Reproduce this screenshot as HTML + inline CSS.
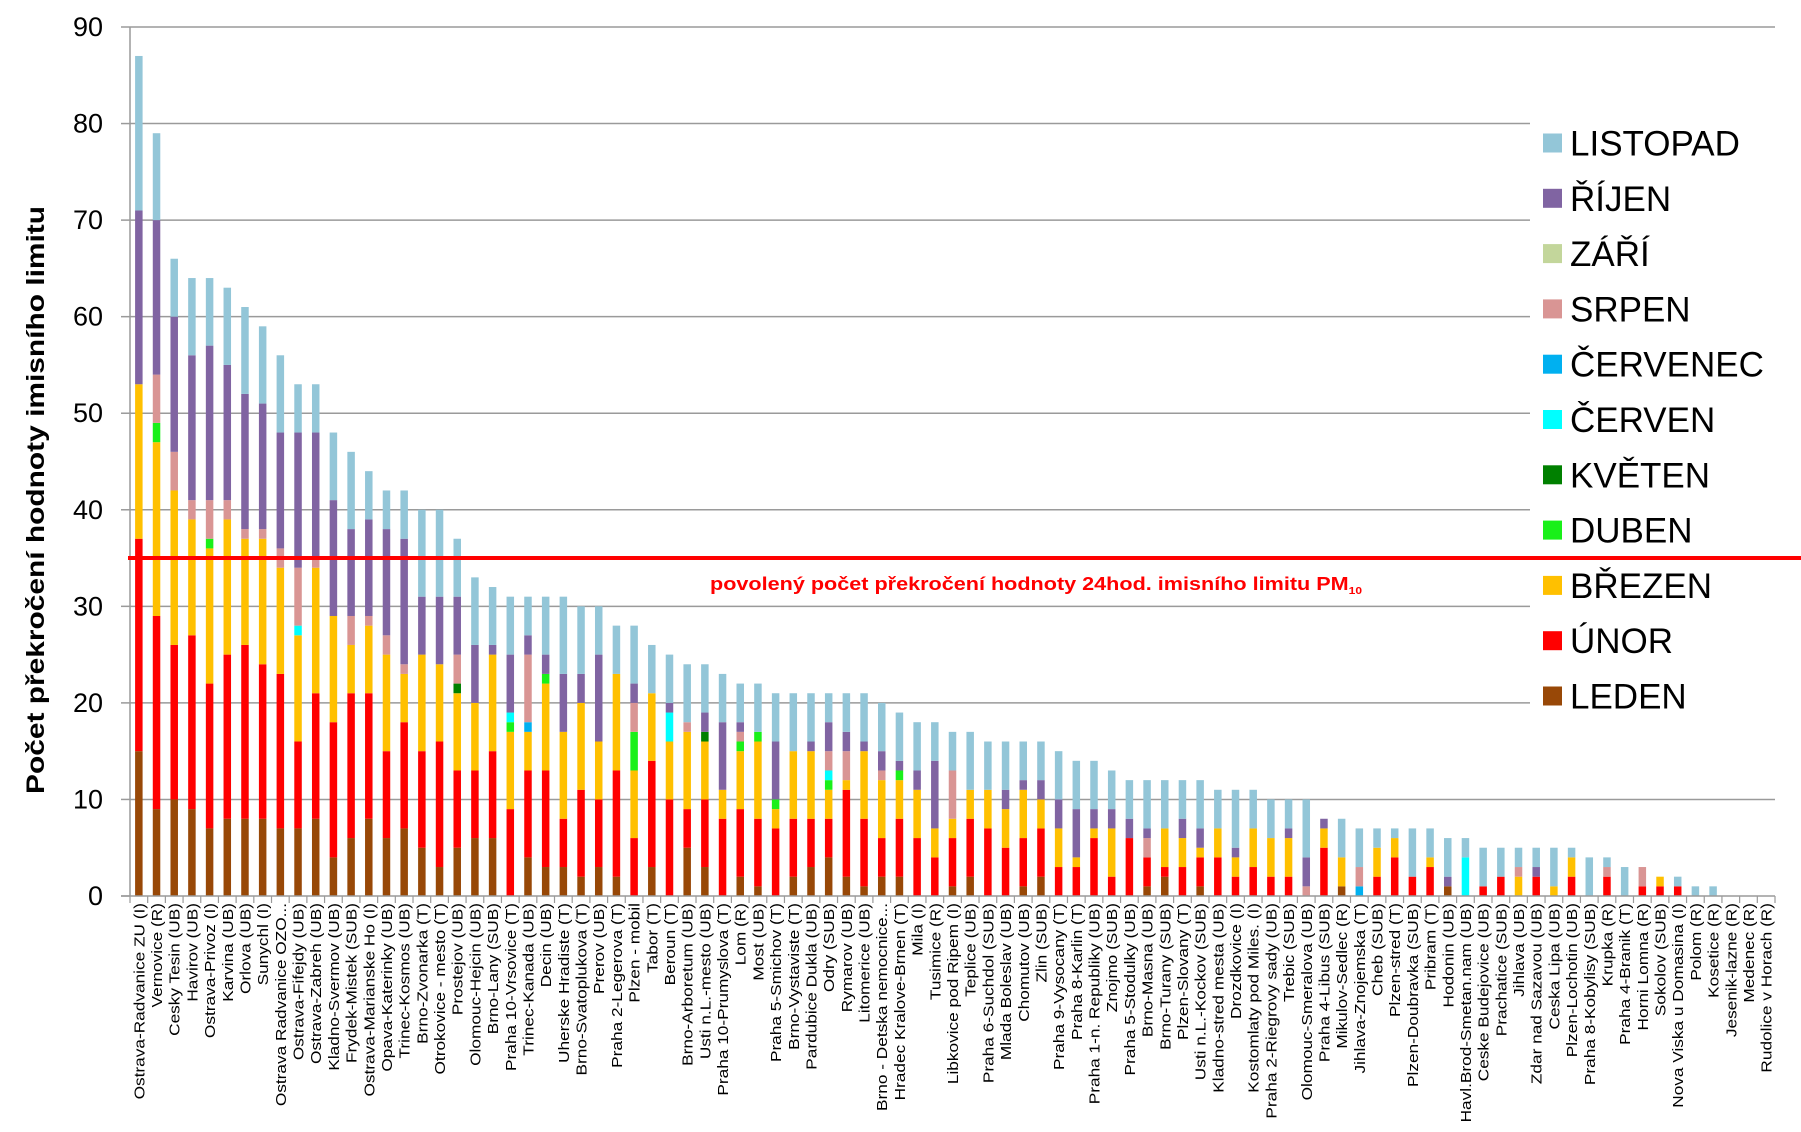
<!DOCTYPE html>
<html><head><meta charset="utf-8"><style>
html,body{margin:0;padding:0;background:#fff;}
svg{display:block;font-family:"Liberation Sans",Arial,sans-serif;}
</style></head><body>
<svg id="chart" width="1801" height="1132" viewBox="0 0 1801 1132" xmlns="http://www.w3.org/2000/svg">
<g id="grid"></g>
<g id="bars"></g>
<g id="axes"></g>
<g id="xlabels"></g>
<g id="legend"></g>
<text transform="translate(44,500) rotate(-90)" text-anchor="middle" font-size="25" font-weight="bold" textLength="588" lengthAdjust="spacingAndGlyphs">Počet překročení hodnoty imisního limitu</text>
<line id="limitLine" x1="128" x2="1801" stroke="#ff0000" stroke-width="4"/>
<text id="limitLabel" x="710" font-size="18" font-weight="bold" fill="#ff0000" textLength="652" lengthAdjust="spacingAndGlyphs">povolený počet překročení hodnoty 24hod. imisního limitu PM<tspan font-size="10" dy="4">10</tspan></text>
</svg>
<script>
const categories = ["Ostrava-Radvanice ZU (I)","Vernovice (R)","Cesky Tesin (UB)","Havirov (UB)","Ostrava-Privoz (I)","Karvina (UB)","Orlova (UB)","Sunychl (I)","Ostrava Radvanice OZO...","Ostrava-Fifejdy (UB)","Ostrava-Zabreh (UB)","Kladno-Svermov (UB)","Frydek-Mistek (SUB)","Ostrava-Marianske Ho (I)","Opava-Katerinky (UB)","Trinec-Kosmos (UB)","Brno-Zvonarka (T)","Otrokovice - mesto (T)","Prostejov (UB)","Olomouc-Hejcin (UB)","Brno-Lany (SUB)","Praha 10-Vrsovice (T)","Trinec-Kanada (UB)","Decin (UB)","Uherske Hradiste (T)","Brno-Svatoplukova (T)","Prerov (UB)","Praha 2-Legerova (T)","Plzen - mobil","Tabor (T)","Beroun (T)","Brno-Arboretum (UB)","Usti n.L.-mesto (UB)","Praha 10-Prumyslova (T)","Lom (R)","Most (UB)","Praha 5-Smichov (T)","Brno-Vystaviste (T)","Pardubice Dukla (UB)","Odry (SUB)","Rymarov (UB)","Litomerice (UB)","Brno - Detska nemocnice...","Hradec Kralove-Brnen (T)","Mila (I)","Tusimice (R)","Libkovice pod Ripem (I)","Teplice (UB)","Praha 6-Suchdol (SUB)","Mlada Boleslav (UB)","Chomutov (UB)","Zlin (SUB)","Praha 9-Vysocany (T)","Praha 8-Karlin (T)","Praha 1-n. Republiky (UB)","Znojmo (SUB)","Praha 5-Stodulky (UB)","Brno-Masna (UB)","Brno-Turany (SUB)","Plzen-Slovany (T)","Usti n.L.-Kockov (SUB)","Kladno-stred mesta (UB)","Drozdkovice (I)","Kostomlaty pod Miles. (I)","Praha 2-Riegrovy sady (UB)","Trebic (SUB)","Olomouc-Smeralova (UB)","Praha 4-Libus (SUB)","Mikulov-Sedlec (R)","Jihlava-Znojemska (T)","Cheb (SUB)","Plzen-stred (T)","Plzen-Doubravka (SUB)","Pribram (T)","Hodonin (UB)","Havl.Brod-Smetan.nam (UB)","Ceske Budejovice (UB)","Prachatice (SUB)","Jihlava (UB)","Zdar nad Sazavou (UB)","Ceska Lipa (UB)","Plzen-Lochotin (UB)","Praha 8-Kobylisy (SUB)","Krupka (R)","Praha 4-Branik (T)","Horni Lomna (R)","Sokolov (SUB)","Nova Viska u Domasina (I)","Polom (R)","Kosetice (R)","Jesenik-lazne (R)","Medenec (R)","Rudolice v Horach (R)"];
const leden = [15,9,10,9,7,8,8,8,7,7, 8,4,6,8,6,7,5,3,5,6, 6,0,4,3,3,2,3,2,0,3, 0,5,3,0,2,1,0,2,3,4, 2,1,2,2,0,0,1,2,0,0, 1,2,0,0,0,0,0,1,2,0, 1,0,0,0,0,0,0,0,1,0, 0,0,0,0,1,0,0,0,0,0, 0,0,0,0,0,0,0,0,0,0, 0,0,0];
const unor = [22,20,16,18,15,17,18,16,16,9, 13,14,15,13,9,11,10,13,8,7, 9,9,9,10,5,9,7,11,6,11, 10,4,7,8,7,7,7,6,5,4, 9,7,4,6,6,4,5,6,7,5, 5,5,3,3,6,2,6,3,1,3, 3,4,2,3,2,2,0,5,0,0, 2,4,2,3,0,0,1,2,0,2, 0,2,0,2,0,1,1,1,0,0, 0,0,0];
const brezen = [16,18,16,12,14,14,11,13,11,11, 13,11,5,7,10,5,10,8,8,7, 10,8,4,9,9,9,6,10,7,7, 6,8,6,3,6,8,2,7,7,3, 1,7,6,4,5,3,2,3,4,4, 5,3,4,1,1,5,0,0,4,3, 1,3,2,4,4,4,0,2,3,0, 3,2,0,1,0,0,0,0,2,0, 1,2,0,0,0,0,1,0,0,0, 0,0,0];
const duben = [0,2,0,0,1,0,0,0,0,0, 0,0,0,0,0,0,0,0,0,0, 0,1,0,1,0,0,0,0,4,0, 0,0,0,0,1,1,1,0,0,1, 0,0,0,1,0,0,0,0,0,0, 0,0,0,0,0,0,0,0,0,0, 0,0,0,0,0,0,0,0,0,0, 0,0,0,0,0,0,0,0,0,0, 0,0,0,0,0,0,0,0,0,0, 0,0,0];
const kveten = [0,0,0,0,0,0,0,0,0,0, 0,0,0,0,0,0,0,0,1,0, 0,0,0,0,0,0,0,0,0,0, 0,0,1,0,0,0,0,0,0,0, 0,0,0,0,0,0,0,0,0,0, 0,0,0,0,0,0,0,0,0,0, 0,0,0,0,0,0,0,0,0,0, 0,0,0,0,0,0,0,0,0,0, 0,0,0,0,0,0,0,0,0,0, 0,0,0];
const cerven = [0,0,0,0,0,0,0,0,0,1, 0,0,0,0,0,0,0,0,0,0, 0,1,0,0,0,0,0,0,0,0, 3,0,0,0,0,0,0,0,0,1, 0,0,0,0,0,0,0,0,0,0, 0,0,0,0,0,0,0,0,0,0, 0,0,0,0,0,0,0,0,0,0, 0,0,0,0,0,4,0,0,0,0, 0,0,0,0,0,0,0,0,0,0, 0,0,0];
const cervenec = [0,0,0,0,0,0,0,0,0,0, 0,0,0,0,0,0,0,0,0,0, 0,0,1,0,0,0,0,0,0,0, 0,0,0,0,0,0,0,0,0,0, 0,0,0,0,0,0,0,0,0,0, 0,0,0,0,0,0,0,0,0,0, 0,0,0,0,0,0,0,0,0,1, 0,0,0,0,0,0,0,0,0,0, 0,0,0,0,0,0,0,0,0,0, 0,0,0];
const srpen = [0,5,4,2,4,2,1,1,2,6, 1,0,3,1,2,1,0,0,3,0, 0,0,7,0,0,0,0,0,3,0, 0,1,0,0,1,0,0,0,0,2, 3,0,1,0,0,0,5,0,0,0, 0,0,0,0,0,0,0,2,0,0, 0,0,0,0,0,0,1,0,0,2, 0,0,0,0,0,0,0,0,1,0, 0,0,0,1,0,2,0,0,0,0, 0,0,0];
const zari = new Array(93).fill(0);
const rijen = [18,16,14,15,16,14,14,13,12,14, 13,12,9,10,11,13,6,7,6,6, 1,6,2,2,6,3,9,0,2,0, 1,0,2,7,1,0,6,0,1,3, 2,1,2,1,2,7,0,0,0,2, 1,2,3,5,2,2,2,1,0,2, 2,0,1,0,0,1,3,1,0,0, 0,0,0,0,1,0,0,0,0,1, 0,0,0,0,0,0,0,0,0,0, 0,0,0];
const listopad = [16,9,6,8,7,8,9,8,8,5, 5,7,8,5,4,5,9,9,6,7, 6,6,4,6,8,7,5,5,6,5, 5,6,5,5,4,5,5,6,5,3, 4,5,5,5,5,4,4,6,5,5, 4,4,5,5,5,4,4,5,5,4, 5,4,6,4,4,3,6,0,4,4, 2,1,5,3,4,2,4,3,2,2, 4,1,4,1,3,0,0,1,1,1, 0,0,0];
const seriesNames = ["LEDEN","ÚNOR","BŘEZEN","DUBEN","KVĚTEN","ČERVEN","ČERVENEC","SRPEN","ZÁŘÍ","ŘÍJEN","LISTOPAD"];
const yTicks = [0,10,20,30,40,50,60,70,80,90];
const limitValue = 35;

const seriesData = [leden,unor,brezen,duben,kveten,cerven,cervenec,srpen,zari,rijen,listopad];
const colors = ["#984807","#ff0000","#ffc000","#19f019","#008000","#00ffff","#00b0f0","#d99594","#c3d69b","#8064a2","#93c6d8"];
const NS = "http://www.w3.org/2000/svg";
const X0 = 130, X1 = 1775, Y0 = 896, YMAX = 90, YTOP = 27;
const band = (X1 - X0) / categories.length;
const barW = 7.5;
function xCenter(i){ return X0 + (i + 0.5) * band; }
function yScale(v){ return Y0 - v / YMAX * (Y0 - YTOP); }
function mk(tag, attrs, parent){
  const e = document.createElementNS(NS, tag);
  for (const k in attrs) e.setAttribute(k, attrs[k]);
  parent.appendChild(e);
  return e;
}
const grid = document.getElementById('grid');
const axes = document.getElementById('axes');
yTicks.forEach(t => {
  const y = yScale(t);
  if (t > 0) {
    const gl = mk('line', {x1: X0, x2: X1, y1: y, y2: y, stroke: '#9a9a9a', 'stroke-width': 1.5}, grid);
    
    
  }
  const tk = mk('line', {x1: X0 - 9, x2: X0, y1: y, y2: y, stroke: '#9a9a9a', 'stroke-width': 1.5}, axes);
  
  
  const lb = mk('text', {x: 103, y: y + 9, 'text-anchor': 'end', 'font-size': 27, fill: '#000'}, axes);
  lb.textContent = t;
  
  
});
const ya = mk('line', {x1: X0, x2: X0, y1: YTOP, y2: Y0, stroke: '#9a9a9a', 'stroke-width': 1.5}, axes);


const xa = mk('line', {x1: X0 - 9, x2: X1, y1: Y0, y2: Y0, stroke: '#9a9a9a', 'stroke-width': 1.5}, axes);


for (let i = 0; i <= categories.length; i++) {
  const x = X0 + i * band;
  const t = mk('line', {x1: x, x2: x, y1: Y0, y2: Y0 + 7, stroke: '#9a9a9a', 'stroke-width': 1.2}, axes);
  
  
}
// Legend background (drawn before bars? legend sits right of bars)
const legend = document.getElementById('legend');
const lbg = mk('rect', {x: 1530, y: 112, width: 271, height: 615, fill: '#fff'}, legend);


const barsG = document.getElementById('bars');
categories.forEach((c, i) => {
  let acc = 0;
  seriesData.forEach((arr, s) => {
    const v = arr[i];
    if (!v) return;
    const yTop = yScale(acc + v), yBot = yScale(acc);
    const r = mk('rect', {x: xCenter(i) - barW / 2, y: yTop, width: barW, height: yBot - yTop, fill: colors[s]}, barsG);
    
    
    acc += v;
  });
});
const xl = document.getElementById('xlabels');
categories.forEach((c, i) => {
  const t = mk('text', {transform: 'translate(' + (xCenter(i) + 5.5) + ',903) rotate(-90) scale(1.15,1)', 'text-anchor': 'end', 'font-size': 15, fill: '#000'}, xl);
  t.textContent = c;
  
  
});
// legend entries (top = last series)
for (let k = 0; k < seriesNames.length; k++) {
  const s = seriesNames.length - 1 - k;
  const cy = 143 + k * 55.3;
  const g = mk('g', {}, legend);
  
  
  const sq = mk('rect', {x: 1543, y: cy - 9.5, width: 19, height: 19, fill: colors[s]}, g);
  
  
  const tx = mk('text', {x: 1570, y: cy + 12.5, 'font-size': 35, fill: '#000'}, g);
  tx.textContent = seriesNames[s];
  
  
}
const ly = yScale(limitValue);
const ll = document.getElementById('limitLine');
ll.setAttribute('y1', ly); ll.setAttribute('y2', ly);
document.getElementById('chart').appendChild(ll);
const lt = document.getElementById('limitLabel');
lt.setAttribute('y', ly + 32);
</script>
</body></html>
